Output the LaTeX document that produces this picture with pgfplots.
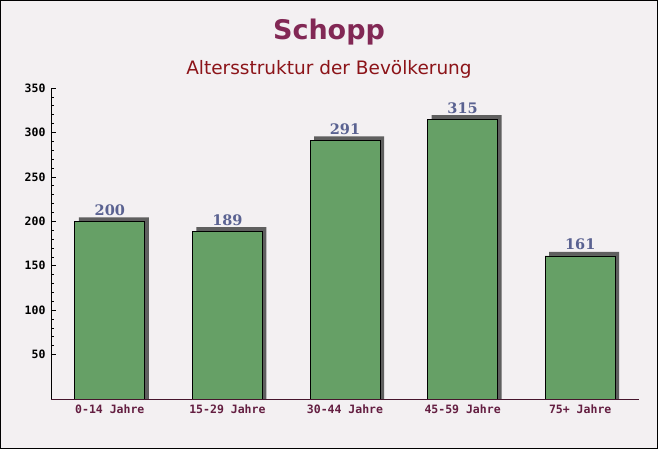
\documentclass[border=0pt]{standalone}
\usepackage{pgfplots}
\usepackage{pgfplotstable}
\pgfplotsset{compat=1.18}
\usepackage{fontspec}
\setmainfont{DejaVu Sans}
\newfontfamily\monofont{DejaVu Sans Mono}
\newfontfamily\seriffont{DejaVu Serif}
\definecolor{bgcol}{RGB}{243,240,242}
\definecolor{titlecol}{RGB}{130,40,85}
\definecolor{subcol}{RGB}{140,20,25}
\definecolor{barcol}{RGB}{102,160,102}
\definecolor{shadowcol}{RGB}{95,95,95}
\definecolor{valcol}{RGB}{90,98,145}
\definecolor{xlabcol}{RGB}{100,30,65}
\pgfplotstableread{
x v
0 200
1 189
2 291
3 315
4 161
}\agedata
\begin{document}
\begin{tikzpicture}[x=1pt,y=1pt]
\fill[bgcol] (0,0) rectangle (658,449);
\node[font=\bfseries\fontsize{27}{30}\selectfont,text=titlecol] at (329,417) {Schopp};
\node[font=\fontsize{18.5}{22}\selectfont,text=subcol] at (329,380) {Altersstruktur der Bevölkerung};
\begin{axis}[
  at={(51pt,50pt)}, anchor=south west,
  scale only axis, width=588pt, height=311pt,
  xmin=-0.5, xmax=4.5, ymin=0, ymax=350,
  axis lines*=left,
  axis line style={line width=0.8pt},
  x axis line style={xlabcol!70!black},
  ytick={50,100,...,350},
  minor y tick num=4,
  tick align=inside,
  major tick length=5pt, minor tick length=3pt,
  tick style={black, line width=0.6pt},
  xtick={0,1,2,3,4},
  xticklabels={0-14 Jahre,15-29 Jahre,30-44 Jahre,45-59 Jahre,75+ Jahre},
  x tick style={draw=none},
  extra x ticks={0.5,1.5,2.5,3.5,4.5},
  extra x tick labels={},
  extra x tick style={tick style={xlabcol!60!gray, line width=0.6pt}, major tick length=5pt},
  xticklabel style={font=\monofont\bfseries\fontsize{11.5}{12}\selectfont, text=xlabcol, yshift=-2pt},
  yticklabel style={font=\monofont\bfseries\fontsize{11.5}{12}\selectfont, text=black, xshift=-2pt},
  /pgf/number format/assume math mode=true,
]
% drop shadow: same bars, 4px to the right and 4px (4.5 units) higher
\addplot[ybar, bar width=70pt, bar shift=4pt, fill=shadowcol, draw=none]
  table[x=x, y expr=\thisrow{v}+4.5] {\agedata};
\addplot[ybar, bar width=70pt, fill=barcol, draw=black, line width=0.8pt,
  nodes near coords,
  every node near coord/.append style={font=\seriffont\bfseries\fontsize{14.5}{16}\selectfont, text=valcol, anchor=south, yshift=2pt}]
  table[x=x, y=v] {\agedata};
\end{axis}
\draw[black, line width=1pt] (0.5,0.5) rectangle (657.5,448.5);
\end{tikzpicture}
\end{document}
